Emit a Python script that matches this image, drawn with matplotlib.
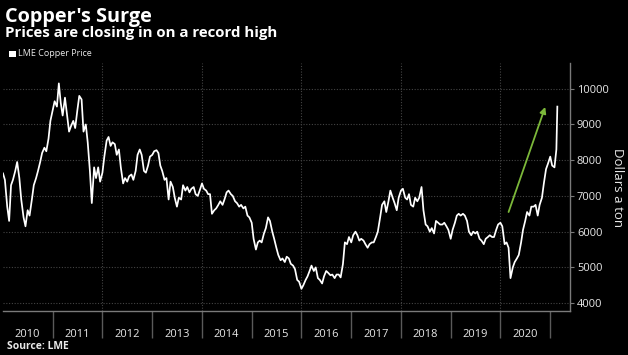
import matplotlib
matplotlib.use("Agg")
import matplotlib.pyplot as plt
import pandas as pd
from matplotlib.patches import Rectangle

plt.rcParams['font.family'] = ['Open Sans', 'DejaVu Sans']

# ---- data: LME copper price, semi-monthly readings (1st and 15th) ----
prices_2010 = [7630, 7450, 6700, 6300, 7300, 7450, 7700, 7950, 7500, 6900, 6400, 6150,
               6600, 6450, 6900, 7300, 7500, 7700, 7950, 8200, 8350, 8250, 8600, 9100]
prices_2011 = [9400, 9650, 9500, 10150, 9600, 9250, 9750, 9300, 8800, 8950, 9100, 8900,
               9400, 9800, 9700, 8800, 9000, 8500, 7700, 6800, 7800, 7500, 7800, 7400]
prices_2012 = [7650, 8100, 8550, 8650, 8400, 8500, 8450, 8150, 8300, 7800, 7350, 7500,
               7400, 7550, 7600, 7450, 7700, 8150, 8300, 8150, 7700, 7650, 7850, 8100]
prices_2013 = [8150, 8250, 8280, 8200, 7850, 7700, 7450, 7500, 6900, 7400, 7250, 6950,
               6700, 6950, 6900, 7300, 7150, 7250, 7100, 7200, 7250, 7050, 7000, 7150]
prices_2014 = [7350, 7200, 7150, 7050, 7050, 6500, 6600, 6650, 6750, 6850, 6750, 6900,
               7100, 7150, 7050, 7000, 6850, 6800, 6700, 6750, 6650, 6700, 6450, 6400]
prices_2015 = [6250, 5800, 5500, 5700, 5750, 5700, 5950, 6100, 6400, 6300, 6000, 5800,
               5550, 5350, 5200, 5250, 5150, 5300, 5250, 5100, 5050, 4950, 4650, 4600]
prices_2016 = [4400, 4500, 4650, 4750, 4900, 5050, 4900, 5000, 4700, 4650, 4550, 4750,
               4900, 4850, 4780, 4800, 4700, 4800, 4800, 4720, 5100, 5700, 5650, 5850]
prices_2017 = [5700, 5900, 6000, 5900, 5750, 5800, 5750, 5650, 5550, 5650, 5700, 5700,
               5850, 6000, 6400, 6750, 6850, 6550, 6850, 7150, 6950, 6800, 6600, 6950]
prices_2018 = [7150, 7200, 6950, 6900, 7050, 6750, 6700, 6950, 6850, 6950, 7250, 6600,
               6200, 6150, 6000, 6100, 5950, 6300, 6250, 6200, 6200, 6250, 6150, 6050]
prices_2019 = [5800, 6050, 6250, 6450, 6500, 6450, 6500, 6450, 6300, 6000, 5900, 6000,
               5950, 6000, 5800, 5750, 5650, 5800, 5850, 5900, 5850, 5850, 6050, 6200]
prices_2020 = [6250, 6150, 5650, 5700, 5550, 4700, 5000, 5150, 5250, 5350, 5700, 6050,
               6300, 6550, 6450, 6700, 6700, 6750, 6450, 6750, 6950, 7350, 7750, 7900]
prices_2021 = [8100, 7850, 7800, 8300]
last_date = '2021-02-22'
last_price = 9500

year_labels = [str(y) for y in range(2010, 2021)]
y_ticks = [4000, 5000, 6000, 7000, 8000, 9000, 10000]

arrow_start = ('2020-03-01', 6550)
arrow_end = ('2020-11-25', 9490)

# ---- build series ----
prices = (prices_2010 + prices_2011 + prices_2012 + prices_2013 + prices_2014 +
          prices_2015 + prices_2016 + prices_2017 + prices_2018 + prices_2019 +
          prices_2020 + prices_2021)
dates = pd.date_range('2010-01-01', periods=len(prices), freq='SMS')
dates = dates.append(pd.DatetimeIndex([last_date]))
values = prices + [last_price]

W, H = 628, 355
fig = plt.figure(figsize=(W / 100, H / 100), dpi=100, facecolor='black')
ax = fig.add_axes([3 / W, 1 - 311 / H, 567 / W, 248 / H])
ax.set_facecolor('black')

grey = '#7a7a7a'
gridc = '#444444'
txt = '#e8e8e8'

ax.plot(dates, values, color='white', lw=1.25, zorder=3)

ax.set_xlim(pd.Timestamp('2010-01-01'), pd.Timestamp('2021-05-26'))
ax.set_ylim(3780, 10720)

# y axis on the right
ax.set_yticks(y_ticks)
ax.set_yticklabels([str(v) for v in y_ticks])
ax.yaxis.tick_right()
ax.tick_params(axis='y', length=3, color=grey, labelsize=8, pad=2, labelcolor=txt)
ax.grid(axis='y', linestyle=(0, (1, 1.5)), color=gridc, lw=0.8)

for yr in range(2012, 2021, 2):
    ax.axvline(pd.Timestamp(f'{yr}-01-01'), linestyle=(0, (1, 1.5)), color=gridc, lw=0.8, zorder=1)

# x axis: labels mid-year, separators at year starts
ax.set_xticks([pd.Timestamp(f'{y}-07-01') for y in year_labels])
ax.set_xticklabels(year_labels)
ax.set_xticks([pd.Timestamp(f'{y}-01-01') for y in range(2011, 2022)], minor=True)
ax.tick_params(axis='x', which='major', length=0, pad=13, labelsize=8, labelcolor=txt)
ax.tick_params(axis='x', which='minor', length=19.5, width=1, color='#5a5a5a')

for s in ['left', 'top']:
    ax.spines[s].set_visible(False)
for s in ['right', 'bottom']:
    ax.spines[s].set_color(grey)
    ax.spines[s].set_linewidth(1)

# arrow
ax.annotate('', xy=(pd.Timestamp(arrow_end[0]), arrow_end[1]),
            xytext=(pd.Timestamp(arrow_start[0]), arrow_start[1]),
            arrowprops=dict(arrowstyle='-|>', color='#7cb83a', lw=1.3,
                            mutation_scale=9, shrinkA=0, shrinkB=0), zorder=4)

# texts
fig.text(5 / W, 1 - 22 / H, "Copper's Surge", fontsize=14.3, fontweight='bold',
         color='white', va='baseline', ha='left')
fig.text(5 / W, 1 - 37.5 / H, "Prices are closing in on a record high", fontsize=10.8,
         fontweight='bold', color='white', va='baseline', ha='left')
fig.patches.append(Rectangle((9 / W, 1 - 57 / H), 7 / W, 6 / H, transform=fig.transFigure,
                             facecolor='white', edgecolor='none'))
fig.text(18 / W, 1 - 54 / H, "LME Copper Price", fontsize=6.5, color=txt,
         va='center', ha='left')
fig.text(617 / W, 1 - 188 / H, "Dollars a ton", fontsize=9.5, color=txt, rotation=270,
         va='center', ha='center')
fig.text(7 / W, 1 - 349 / H, "Source: LME", fontsize=7.5, fontweight='bold',
         color=txt, va='baseline', ha='left')

fig.savefig('out.png', dpi=100, facecolor='black')
